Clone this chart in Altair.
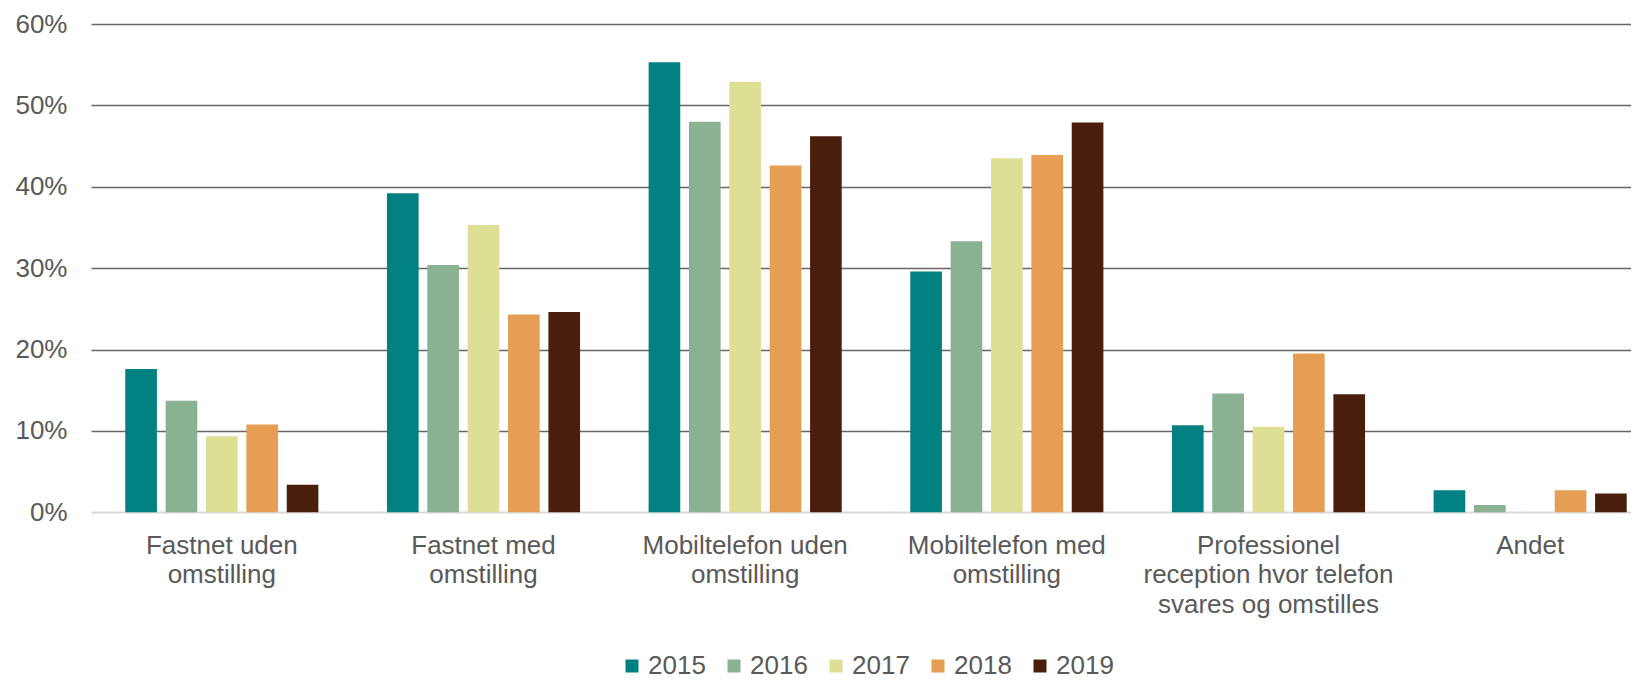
import altair as alt
import pandas as pd

categories = [
    "Fastnet uden\nomstilling",
    "Fastnet med\nomstilling",
    "Mobiltelefon uden\nomstilling",
    "Mobiltelefon med\nomstilling",
    "Professionel\nreception hvor telefon\nsvares og omstilles",
    "Andet",
]
years = ["2015", "2016", "2017", "2018", "2019"]
v2015 = [17.6, 39.2, 55.3, 29.6, 10.7, 2.7]
v2016 = [13.7, 30.4, 48.0, 33.3, 14.6, 0.9]
v2017 = [9.35, 35.3, 52.9, 43.5, 10.5, 0.0]
v2018 = [10.8, 24.3, 42.6, 43.9, 19.5, 2.7]
v2019 = [3.4, 24.6, 46.2, 47.9, 14.5, 2.3]
colors = ["#008080", "#8AB192", "#DDDF94", "#E59E54", "#4A1E0C"]
y_ticks = [0, 10, 20, 30, 40, 50, 60]

series = [v2015, v2016, v2017, v2018, v2019]
rows = []
for yr, vals in zip(years, series):
    for cat, v in zip(categories, vals):
        rows.append({"category": cat, "year": yr, "value": v})
df = pd.DataFrame(rows)

FONT = "Liberation Sans"
TXT = "#595959"
FS = 26

chart = (
    alt.Chart(df)
    .mark_bar()
    .encode(
        x=alt.X(
            "category:N",
            sort=categories,
            scale=alt.Scale(range=[0, 1570], paddingInner=0.262, paddingOuter=0.131),
            axis=alt.Axis(
                title=None,
                labelExpr="split(datum.label, '\\n')",
                labelAngle=0,
                labelFont=FONT,
                labelFontSize=FS,
                labelColor=TXT,
                labelLineHeight=29.5,
                labelPadding=20,
                labelLimit=0,
                labelOverlap=False,
                labelFlush=False,
                ticks=False,
                tickSize=0,
                domain=False,
                grid=False,
            ),
        ),
        xOffset=alt.XOffset(
            "year:N",
            sort=years,
            scale=alt.Scale(paddingInner=0.216, paddingOuter=0),
        ),
        y=alt.Y(
            "value:Q",
            scale=alt.Scale(domain=[0, 60], nice=False),
            axis=alt.Axis(
                title=None,
                values=y_ticks,
                labelExpr="datum.value + '%'",
                labelFont=FONT,
                labelFontSize=FS,
                labelColor=TXT,
                labelPadding=24,
                ticks=False,
                tickSize=0,
                domain=False,
                grid=True,
                gridColor={"condition": {"test": "datum.value === 0", "value": "#d9d9d9"}, "value": "#666666"},
                gridWidth={"condition": {"test": "datum.value === 0", "value": 1.8}, "value": 1.3},
            ),
        ),
        color=alt.Color(
            "year:N",
            sort=years,
            scale=alt.Scale(domain=years, range=colors),
            legend=alt.Legend(
                title=None,
                orient="none",
                direction="horizontal",
                legendX=528,
                legendY=629,
                symbolType="square",
                symbolSize=169,
                symbolStrokeWidth=0,
                labelFont=FONT,
                labelFontSize=FS,
                labelColor=TXT,
                labelOffset=3,
                columnPadding=15,
            ),
        ),
    )
    .properties(
        width=1540,
        height=488.3,
        autosize=alt.AutoSizeParams(type="none"),
        padding={"left": 83, "top": 16, "right": 0, "bottom": 166.7},
    )
    .configure_view(stroke=None)
)

chart.save("out.html", embed_options={"renderer": "svg", "actions": False})
